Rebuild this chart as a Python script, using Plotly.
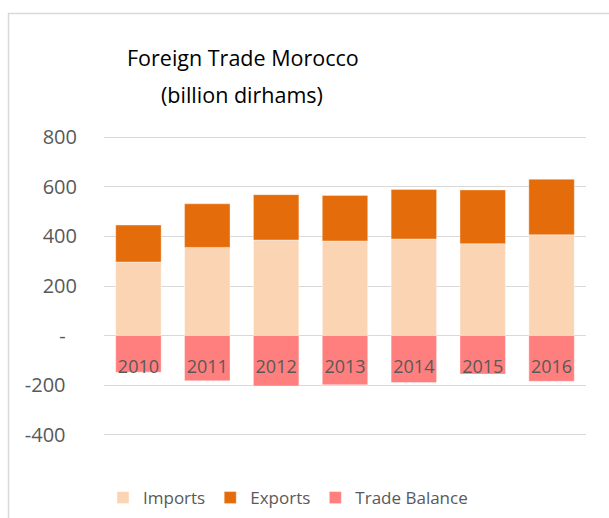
import plotly.graph_objects as go

# ---- data ----
years = ["2010", "2011", "2012", "2013", "2014", "2015", "2016"]
imports = [297, 356, 386, 382, 390, 371, 407]
exports = [149, 176, 183, 184, 200, 217, 224]
trade_balance = [-148, -183, -204, -199, -190, -156, -185]
y_tick_vals = [-400, -200, 0, 200, 400, 600, 800]
y_tick_text = ["-400\u2007", "-200\u2007", "-\u2007", "200", "400", "600", "800"]
title_lines = ["Foreign Trade Morocco", "(billion dirhams)"]

# ---- layout geometry ----
W, H = 609, 518
L, R, T, B = 104, 23, 135, 81
PW, PH = W - L - R, H - T - B
Y_MIN, Y_MAX = -410, 810


def px_x(x):
    return (x - L) / PW


def px_y(y):
    return (H - B - y) / PH


GREY_TXT = "#595959"
FONT = "Open Sans"

fig = go.Figure()
fig.add_trace(go.Bar(x=years, y=imports, name="Imports",
                     marker=dict(color="#FBD4B4", line=dict(color="rgba(255,255,255,0.45)", width=1))))
fig.add_trace(go.Bar(x=years, y=exports, name="Exports",
                     marker=dict(color="#E46C0A", line=dict(color="rgba(255,255,255,0.35)", width=1))))
fig.add_trace(go.Bar(x=years, y=trade_balance, name="Trade Balance",
                     marker=dict(color="#FF7F7F", line=dict(color="rgba(255,255,255,0.35)", width=1))))

annotations = [
    dict(text=title_lines[0], x=px_x(243), y=px_y(58), xref="paper", yref="paper",
         showarrow=False, xanchor="center", yanchor="middle",
         font=dict(family=FONT, size=21.5, color="#000000")),
    dict(text=title_lines[1], x=px_x(242), y=px_y(94), xref="paper", yref="paper",
         showarrow=False, xanchor="center", yanchor="middle",
         font=dict(family=FONT, size=21.5, color="#000000")),
]

fig.update_layout(
    width=W, height=H,
    margin=dict(l=L, r=R, t=T, b=B, pad=0, autoexpand=False),
    paper_bgcolor="white", plot_bgcolor="white",
    barmode="relative", bargap=0.34,
    font=dict(family=FONT, color=GREY_TXT),
    showlegend=True,
    legend=dict(orientation="h", x=px_x(288), xanchor="center", y=px_y(498), yanchor="middle",
                font=dict(family=FONT, size=17, color=GREY_TXT), traceorder="normal",
                itemwidth=30, bgcolor="rgba(0,0,0,0)"),
    annotations=annotations,
    shapes=[dict(type="rect", xref="paper", yref="paper",
                 x0=px_x(8.5), x1=px_x(800), y0=px_y(800), y1=px_y(13.5),
                 line=dict(color="#D9D9D9", width=1.5), fillcolor="rgba(0,0,0,0)", layer="below")],
    xaxis=dict(type="category", anchor="free", position=(0 - Y_MIN) / (Y_MAX - Y_MIN),
               showline=False, showgrid=False, zeroline=False,
               ticks="outside", ticklen=15, tickcolor="rgba(0,0,0,0)",
               tickfont=dict(family=FONT, size=18, color=GREY_TXT)),
    yaxis=dict(range=[Y_MIN, Y_MAX], tickvals=y_tick_vals, ticktext=y_tick_text,
               showgrid=True, gridcolor="#D9D9D9", gridwidth=1.2,
               zeroline=True, zerolinecolor="#D9D9D9", zerolinewidth=1.2,
               showline=False, ticks="outside", ticklen=22, tickcolor="rgba(0,0,0,0)",
               tickfont=dict(family=FONT, size=20, color=GREY_TXT)),
)

fig.write_html("out.html", config={"displayModeBar": False},
               post_script="document.body.style.margin='0';")
